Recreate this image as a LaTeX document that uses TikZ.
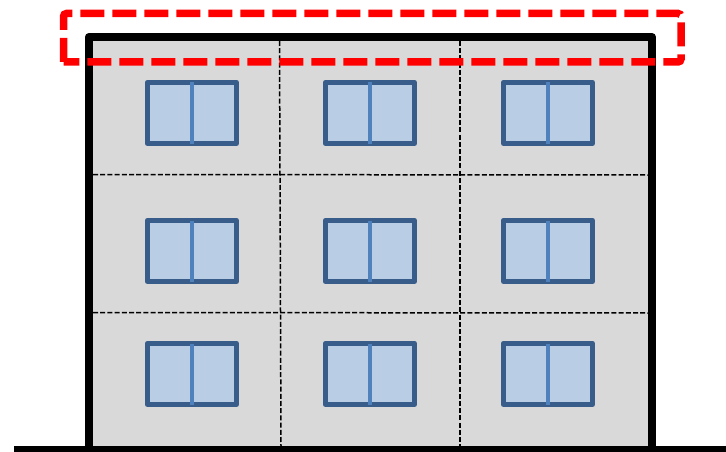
\documentclass[tikz,border=0pt]{standalone}
\definecolor{wallgray}{HTML}{D9D9D9}
\definecolor{winfill}{HTML}{B9CDE5}
\definecolor{winedge}{HTML}{385D8A}
\definecolor{winbar}{HTML}{4F81BD}
\tikzset{
  wall/.style={fill=wallgray,draw=black,line width=8pt,line join=round},
  ground/.style={draw=black,line width=7.5pt},
  gridline/.style={draw=black,line width=1.5pt,dash pattern=on 5pt off 2.2pt},
  winframe/.style={fill=winfill,draw=winedge,line width=5.2pt,line join=round},
  winmullion/.style={draw=winbar,line width=3.2pt},
  roofmark/.style={draw=red,line width=7.5pt,dash pattern=on 24pt off 8pt,rounded corners=3pt}
}
\newcommand{\windowat}[2]{%
  \draw[winframe] (#1-44.5,#2-30.5) rectangle (#1+44.5,#2+30.5);
  \draw[winmullion] (#1,#2-30.5) -- (#1,#2+30.5);
}
\begin{document}
\begin{tikzpicture}[x=1pt,y=-1pt]
\useasboundingbox (0,0) rectangle (726,452);
\clip (0,0) rectangle (726,452);
\draw[wall] (88.75,450) -- (88.75,37) -- (652,37) -- (652,450);
\draw[gridline] (279.5,41) -- (281,446);
\draw[gridline] (460,41) -- (460,446);
\draw[gridline] (93,174.5) -- (648,175);
\draw[gridline] (93,312.5) -- (648,313);
\foreach \wy in {113,251,374} {
  \foreach \wx in {192,370,548} {
    \windowat{\wx}{\wy}
  }
}
\draw[ground] (14,450) -- (726,450);
\draw[roofmark] (63.5,62) -- (63.5,13.5) -- (681,13.5) -- (681,62) -- (63.5,62);
\end{tikzpicture}
\end{document}
